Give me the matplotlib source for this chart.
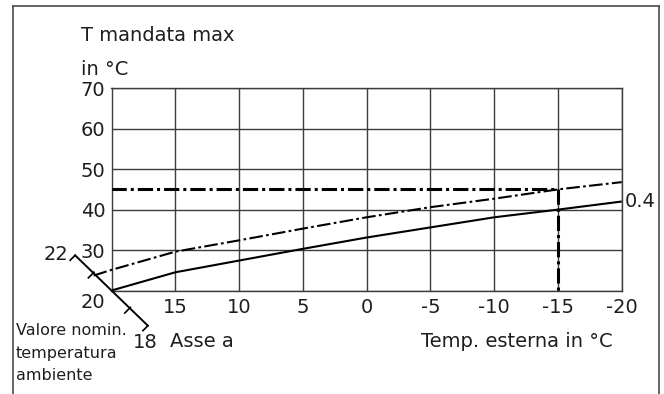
import matplotlib
matplotlib.use("Agg")
import matplotlib.pyplot as plt
from matplotlib.lines import Line2D
from matplotlib.transforms import IdentityTransform

# Heating curve 0.4 (room set-point 20 °C)
outdoor = [20, 15, 10, 5, 0, -5, -10, -15, -20]
flow_04 = [20.0, 24.5, 27.4, 30.3, 33.1, 35.6, 38.1, 40.0, 42.0]

# Same curve shifted along axis "a" (room set-point raised)
outdoor_shift = [21.4, 20, 15, 10, 5, 0, -5, -10, -15, -20]
flow_shift = [23.7, 25.1, 29.6, 32.4, 35.3, 38.1, 40.6, 42.7, 45.0, 46.8]

# Reading lines: max flow temperature and design outdoor temperature
flow_max = 45
design_outdoor = -15

x_ticks = [20, 15, 10, 5, 0, -5, -10, -15, -20]
x_labels = ["", "15", "10", "5", "0", "-5", "-10", "-15", "-20"]
y_ticks = [20, 30, 40, 50, 60, 70]
y_labels = ["", "30", "40", "50", "60", "70"]

# Nominal room temperature axis ("Asse a")
room_temps = [22, 21, 20, 19, 18]
room_tick_marks = [21, 19]

W, H = 664, 394
TXT = "#1e1e1e"
GRID = "#3c3c3c"

fig = plt.figure(figsize=(W / 100, H / 100), dpi=100)
L, R, T, B = 111.5, 621.7, 88.3, 290.5
ax = fig.add_axes([L / W, 1 - B / H, (R - L) / W, (B - T) / H])
ax.set_xlim(20, -20)
ax.set_ylim(20, 70)

ax.set_xticks(x_ticks)
ax.set_xticklabels(x_labels)
ax.set_yticks(y_ticks)
ax.set_yticklabels(y_labels)
ax.tick_params(length=0, labelsize=14, colors=TXT, pad=4.5)
ax.tick_params(axis="x", pad=5.5)
ax.grid(True, color=GRID, lw=1.0)
for s in ax.spines.values():
    s.set_color(GRID)
    s.set_linewidth(1.0)

# curves
ax.plot(outdoor, flow_04, color="black", lw=1.5, solid_capstyle="butt", zorder=3)
ax.plot(outdoor_shift, flow_shift, color="black", lw=1.5,
        linestyle=(0, (6.5, 1.6, 1.3, 1.6)), clip_on=False, zorder=3)

# reading lines
ax.plot([20, design_outdoor], [flow_max, flow_max], color="black", lw=2.2,
        linestyle=(0, (5.0, 1.3, 1.0, 1.3)), zorder=3)
ax.plot([design_outdoor, design_outdoor], [flow_max, 20], color="black", lw=2.2,
        linestyle=(0, (5.0, 1.3, 1.0, 1.3)), zorder=3)

ax.annotate("0.4", xy=(outdoor[-1], flow_04[-1]), xytext=(2.5, 0),
            textcoords="offset points", fontsize=14, color=TXT,
            ha="left", va="center", annotation_clip=False)

# room temperature diagonal axis, drawn in pixel space from the origin point
fig.canvas.draw()
ox, oy = ax.transData.transform((20, 20))
step = (-18.2, 17.6)   # pixels per °C of room temperature
perp = (-0.7071, -0.7071)


def room_pt(t, off=0.0):
    d = t - 20
    return ox + step[0] * d + perp[0] * off, oy + step[1] * d + perp[1] * off


idt = IdentityTransform()
p0 = room_pt(room_temps[0])
p1 = room_pt(room_temps[-1])
fig.add_artist(Line2D([p0[0], p1[0]], [p0[1], p1[1]], transform=idt,
                      color="black", lw=1.4, zorder=4))
for t in [room_temps[0], room_temps[-1]]:
    a, b = room_pt(t), room_pt(t, 7)
    fig.add_artist(Line2D([a[0], b[0]], [a[1], b[1]], transform=idt,
                          color="black", lw=1.2, zorder=4))
for t in room_tick_marks:
    a, b = room_pt(t, -1), room_pt(t, 7)
    fig.add_artist(Line2D([a[0], b[0]], [a[1], b[1]], transform=idt,
                          color="black", lw=1.2, zorder=4))


# labels in pixel coordinates (y measured from the top)
def ptext(x, y, s, **kw):
    kw.setdefault("fontsize", 14)
    kw.setdefault("color", TXT)
    fig.text(x / W, 1 - y / H, s, **kw)


ptext(68, 255, "22", ha="right", va="center")
ptext(105, 303, "20", ha="right", va="center")
ptext(133, 343, "18", ha="left", va="center")
ptext(81, 41, "T mandata max", ha="left", va="baseline")
ptext(81, 75, "in °C", ha="left", va="baseline")
ptext(170, 347, "Asse a", ha="left", va="baseline")
ptext(613, 347, "Temp. esterna in °C", ha="right", va="baseline")
ptext(16, 335, "Valore nomin.", ha="left", va="baseline", fontsize=11.5)
ptext(16, 358, "temperatura", ha="left", va="baseline", fontsize=11.5)
ptext(16, 380.5, "ambiente", ha="left", va="baseline", fontsize=11.5)

# outer frame (open at the bottom)
fx0, fx1, fy = 12.5 / W, 658.5 / W, 1 - 5.5 / H
for xs, ys in [([fx0, fx0], [0, fy]), ([fx0, fx1], [fy, fy]), ([fx1, fx1], [fy, 0])]:
    fig.add_artist(Line2D(xs, ys, transform=fig.transFigure, color="#4a4a4a", lw=1.2))

fig.savefig("out.png", dpi=100)
